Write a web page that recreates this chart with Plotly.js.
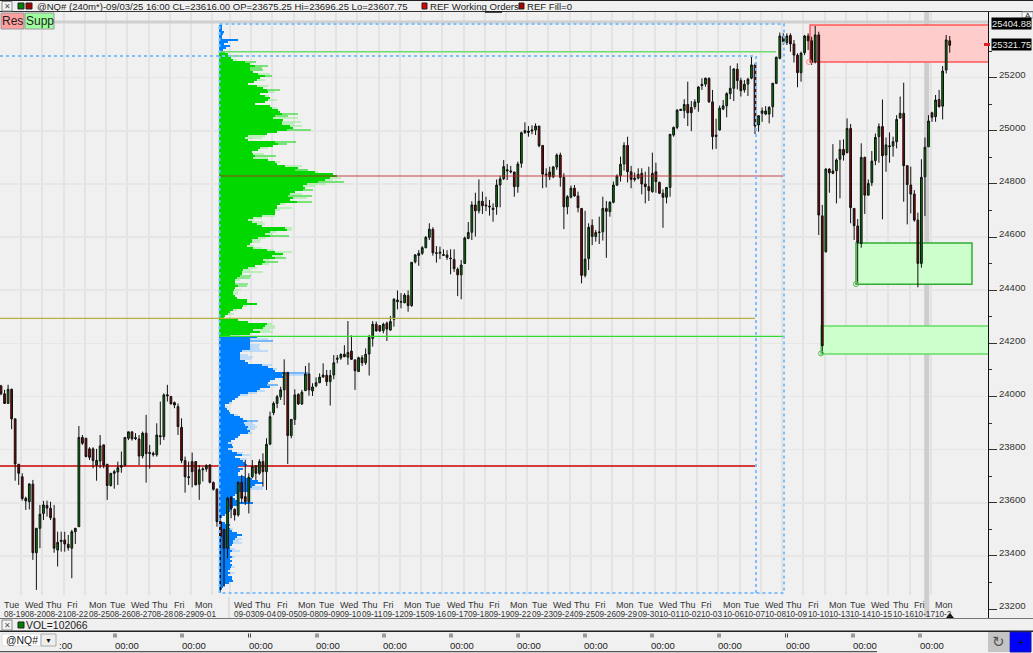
<!DOCTYPE html>
<html><head><meta charset="utf-8">
<script src="https://cdn.plot.ly/plotly-3.0.1.min.js"></script>
<style>html,body{margin:0;padding:0;background:#f0f0f0;overflow:hidden}#c{width:1033px;height:653px}</style>
</head><body><div id="c"></div>
<script>
const opens=[24040,24010,23974,24027,23916,23745,23698,23617,23604,23670,
23412,23504,23560,23590,23579,23542,23422,23454,23460,23444,
23429,23491,23510,23846,23843,23803,23803,23742,23757,23818,
23745,23665,23711,23716,23734,23742,23843,23867,23841,23840,
23776,23862,23785,23786,23781,23849,23849,24002,24000,23977,
23962,23884,23759,23698,23755,23755,23670,23724,23727,23742,
23676,23651,23529,23500,23429,23619,23575,23554,23677,23623,
23604,23698,23738,23711,23755,23717,23821,23939,23974,23999,
24025,24091,23853,23914,24008,23972,24022,24085,24021,24040,
24052,24073,24080,24056,24081,24140,24145,24159,24148,24171,
24138,24094,24146,24127,24160,24219,24272,24267,24248,24276,
24250,24291,24357,24355,24353,24380,24342,24507,24531,24539,
24560,24599,24629,24541,24539,24531,24533,24521,24516,24479,
24458,24501,24595,24618,24721,24699,24735,24721,24717,24709,
24714,24796,24820,24849,24849,24845,24790,24878,24994,24994,
24999,25003,25018,24945,24837,24845,24827,24864,24909,24825,
24714,24750,24784,24755,24708,24456,24519,24644,24602,24617,
24620,24708,24696,24731,24796,24831,24875,24945,24846,24822,
24822,24840,24800,24790,24771,24846,24806,24765,24750,24787,
24984,25013,25077,25076,25099,25088,25091,25107,25170,25176,
25198,25109,24984,25003,25082,25094,25140,25160,25232,25189,
25154,25176,25198,25248,25022,25066,25063,25063,25091,25179,
25273,25354,25332,25359,25327,25285,25219,25294,25357,25339,
25260,25361,24680,24545,24856,24849,24850,24893,24930,24918,
25009,24708,24642,24576,24900,24758,24805,24888,24978,25016,
24909,24940,24943,24959,25048,25066,24869,24796,24762,24664,
24501,24827,24940,25068,25053,25118,25093,25229,25339];
const highs=[24044,24025,24044,24030,23916,23746,23711,23623,23673,23686,
23504,23592,23607,23608,23604,23592,23491,23491,23491,23479,
23498,23504,23889,23855,23843,23809,23809,23803,23855,23818,
23745,23711,23724,23755,23793,23846,23867,23867,23862,23855,
23868,23931,23818,23793,23899,23981,24012,24044,24002,23981,
23974,23918,23774,23755,23789,23755,23742,23734,23745,23746,
23680,23654,23554,23500,23623,23626,23579,23680,23705,23761,
23711,23761,23742,23764,23786,23843,23943,23981,24006,24037,
24140,24091,23914,24027,24012,24025,24115,24127,24050,24072,
24087,24125,24100,24100,24156,24156,24163,24193,24284,24230,
24138,24150,24156,24181,24232,24284,24282,24269,24278,24282,
24303,24370,24399,24389,24389,24399,24505,24536,24551,24566,
24604,24652,24637,24566,24564,24554,24551,24554,24554,24486,
24514,24602,24657,24735,24767,24817,24771,24752,24740,24727,
24817,24831,24890,24875,24868,24846,24884,24997,25032,25018,
25021,25028,25018,24945,24859,24865,24868,24915,24918,24840,
24758,24794,24796,24771,24708,24699,24652,24667,24627,24677,
24752,24736,24736,24809,24836,24903,24957,24978,24868,24843,
24859,24859,24846,24865,24918,24880,24809,24780,24787,24988,
25016,25081,25081,25119,25185,25112,25119,25168,25198,25200,
25200,25154,25046,25095,25116,25145,25245,25235,25254,25200,
25191,25200,25283,25254,25059,25088,25093,25093,25179,25279,
25370,25367,25367,25367,25342,25292,25298,25361,25367,25354,
25395,25373,24721,24859,24859,24950,24896,24965,24968,25047,
25026,24708,24668,24953,24903,24817,24924,24990,25028,25118,
24975,24994,24978,25059,25129,25181,24869,24865,24777,24692,
24893,24975,25059,25072,25135,25154,25244,25361,25357];
const lows=[24005,23972,23974,23877,23683,23667,23608,23573,23575,23385,
23272,23429,23535,23548,23535,23412,23360,23416,23416,23420,
23316,23445,23510,23818,23771,23761,23730,23683,23730,23730,
23611,23661,23653,23667,23713,23736,23836,23834,23836,23742,
23767,23676,23729,23774,23774,23818,23836,23981,23971,23956,
23855,23749,23638,23667,23658,23667,23611,23680,23717,23673,
23646,23510,23262,23284,23391,23542,23533,23548,23598,23592,
23560,23692,23686,23705,23661,23648,23817,23930,23956,23987,
23968,23746,23843,23893,23968,23968,24022,24003,24002,24035,
24050,24072,24040,23966,24065,24125,24138,24148,24119,24138,
24025,24092,24115,24119,24079,24188,24244,24243,24238,24209,
24248,24263,24328,24332,24351,24319,24338,24501,24492,24533,
24558,24589,24530,24504,24517,24529,24514,24460,24469,24378,
24366,24499,24592,24589,24602,24689,24687,24698,24681,24658,
24684,24712,24815,24815,24840,24752,24767,24861,24988,24978,
24987,24984,24938,24784,24787,24815,24822,24853,24790,24630,
24686,24746,24752,24693,24426,24448,24476,24570,24583,24574,
24587,24522,24677,24727,24792,24809,24850,24806,24784,24809,
24817,24761,24727,24736,24767,24767,24762,24635,24727,24752,
24978,25006,25075,25047,25018,24999,25081,25072,25154,25166,
25106,24930,24932,25001,25078,25051,25119,25112,25156,25129,
25144,25131,25194,24988,24997,25034,25059,25028,25051,25176,
25269,25323,25323,25298,25257,25164,25185,25285,25304,25248,
25254,24608,24162,24542,24767,24837,24727,24746,24888,24915,
24652,24589,24426,24560,24687,24758,24792,24871,24880,24667,
24846,24880,24903,24934,25047,24733,24648,24689,24658,24411,
24485,24679,24940,25034,25034,25088,25043,25216,25294];
const closes=[24010,23974,24027,23916,23746,23711,23616,23607,23671,23412,
23504,23557,23592,23580,23544,23429,23451,23459,23445,23431,
23491,23504,23846,23824,23774,23771,23759,23759,23814,23742,
23665,23711,23717,23732,23740,23846,23867,23841,23845,23776,
23862,23785,23789,23781,23855,23852,24006,24006,23972,23968,
23887,23759,23698,23695,23717,23667,23724,23727,23740,23677,
23651,23529,23473,23429,23617,23579,23554,23677,23617,23604,
23696,23736,23711,23755,23717,23820,23924,23974,23999,24025,
24091,23853,23914,24006,23972,24016,24085,24025,24036,24052,
24073,24081,24056,24079,24127,24144,24158,24150,24166,24140,
24097,24146,24127,24159,24222,24272,24247,24247,24272,24254,
24282,24366,24363,24357,24382,24342,24505,24533,24539,24560,
24599,24630,24541,24539,24543,24534,24524,24519,24481,24458,
24495,24597,24617,24721,24699,24735,24718,24718,24714,24704,
24796,24819,24865,24853,24846,24790,24875,24993,25001,24999,
25003,25018,24944,24837,24834,24827,24864,24909,24825,24714,
24752,24784,24755,24711,24456,24517,24637,24602,24617,24619,
24708,24697,24731,24796,24830,24874,24945,24846,24817,24817,
24836,24800,24790,24775,24840,24809,24765,24750,24787,24987,
25013,25078,25081,25099,25068,25068,25109,25165,25175,25198,
25109,24978,24979,25085,25094,25140,25160,25233,25189,25151,
25175,25194,25248,25018,25057,25075,25075,25088,25179,25277,
25357,25336,25357,25327,25285,25219,25292,25357,25339,25258,
25361,24683,24191,24856,24842,24840,24890,24930,24909,25009,
24711,24643,24580,24900,24758,24802,24886,24975,25016,24906,
24947,24943,24959,25043,25066,24869,24798,24762,24664,24501,
24825,24938,25037,25051,25116,25091,25225,25342,25322];

const profileBlueTop=[3,3,3,5,4,3,3,19,9,5,11,7,4];
const profileGreen=[6,9,11,12,14,26,31,36,31,31,34,39,46,41,38,35,29,38,44,48,49,41,46,51,49,46,36,51,53,59,61,63,56,54,64,63,63,71,74,68,58,48,29,26,29,56,59,54,41,39,33,34,36,34,49,56,58,66,79,
76,96,114,118,111,106,99,88,84,86,84,76,71,69,74,71,78,61,58,58,56,56,56,43,34,29,33,38,43,66,68,51,46,51,39,33,33,31,28,34,48,56,64,53,56,44,46,43,36,29,24,23,23,21,18,16,16,16,19,16,15,14,14,16,18,28,28,38,24,23,14,11,9,6,5,19,29,48,46,44,34,41,31,11];
const profileBlue=[38,31,31,31,31,31,31,23,21,21,21,21,26,29,43,49,54,56,64,63,66,56,51,49,48,51,41,38,29,21,19,16,13,10,6,6,8,10,11,15,21,24,28,25,26,29,28,31,29,21,19,16,12,9,13,14,9,13,18,23,16,21,24,26,28,
19,24,21,19,19,26,33,39,44,36,33,31,29,19,16,14,16,19,34,19,14,13,11,9,6,3,1,1,6,11,10,11,13,18,23,18,16,14,14,13,11,11,13,11,11,13,11,13,11,13,12,11,9,11,9,13,13,14,10,6,4,3,2];
const greenSpikeLevels=[2,5,7,8,9,12,19,31,32,39,45,46,52,59,65,69,72,75,92,103,105,112,113,116,117];
const greenSpikeVolumes=[21,37,49,43,44,53,61,79,69,92,77,68,57,89,125,94,93,93,70,67,59,32,31,29,28];
const greenTintLevels=[4,11,14,17,20,22,24,28,33,35,36,37,42,43,48,51,53,55,57,59,60,63,64,66,67,71,73,76,78,79,82,83,84,85,86,88,89,90,91,93,94,95,97,98,99,100,102,104,106,108,109,110,114,119,120,121,127,129,131,136,137,138,139,140,142];
const greenTintVolumes=[18,51,46,49,56,50,58,58,79,82,75,83,46,43,49,45,49,61,83,88,99,122,114,107,96,83,88,66,73,61,56,43,35,44,46,73,73,57,53,47,42,41,35,43,55,73,63,51,50,38,31,44,21,22,19,19,28,18,15,53,56,56,51,54,21];
const blueSpikeLevels=[2,18,24,42];
const blueSpikeVolumes=[54,89,59,39];
const blueTintLevels=[1,4,5,6,7,9,10,11,14,16,19,27,28,29,33,35,39,43,44,45,46,48,53,56,58,59,61,75,76,96,101,102,103,106,107,110,115,118];
const blueTintVolumes=[49,41,40,41,49,29,34,32,53,58,89,46,38,29,13,9,19,34,36,38,36,33,14,13,24,31,28,44,44,14,23,20,23,16,21,16,16,16];

const dayNames=["Tue","Wed","Thu","Fri","Mon","Tue","Wed","Thu","Fri","Mon","Wed","Thu","Fri","Mon","Tue","Wed","Thu","Fri","Mon","Tue","Wed","Thu","Fri","Mon","Tue","Wed","Thu","Fri","Mon","Tue","Wed","Thu","Fri","Mon","Tue","Wed","Thu","Fri","Mon","Tue","Wed","Thu","Fri","Mon"];
const dayDates=["08-19","08-20","08-21","08-22","08-25","08-26","08-27","08-28","08-29","09-01","09-03","09-04","09-05","09-08","09-09","09-10","09-11","09-12","09-15","09-16","09-17","09-18","09-19","09-22","09-23","09-24","09-25","09-26","09-29","09-30","10-01","10-02","10-03","10-06","10-07","10-08","10-09","10-10","10-13","10-14","10-15","10-16","10-17","10-2"];
const yTicks=[23200,23400,23600,23800,24000,24200,24400,24600,24800,25000,25200];

// overlay levels (price) and their spans (chart pixels converted through the axis)
const pocPrice=24830, greenTopPrice=25298, olivePrice=24294, greenLowPrice=24226, redPrice=23738;
const resZone=[25398,25259], suppZoneA=[24578,24423], suppZoneB=[24265,24160];
const zoneDotPrices=[25259,24423,24162];

const PW=988,PT=12,PB=618;
const xAt=p=>(p-1)/3.54, priceAt=y=>25200-(y-77.7)*3.764;
const px=x=>x/PW, py=y=>(PB-y)/(PB-PT);
const barIdx=opens.map((_,i)=>i);
const xBase=xAt(219), stepP=7.53;

function profBar(vals,y0,col,w){return {type:'bar',orientation:'h',y:vals.map((_,k)=>priceAt(y0+2*k)),x:vals.map(v=>v/3.54),base:xBase,width:w,marker:{color:col,line:{width:0}},hoverinfo:'skip'};}
function sparseBar(levels,vols,y0,col,w){return {type:'bar',orientation:'h',y:levels.map(k=>priceAt(y0+2*k)),x:vols.map(v=>v/3.54),base:xBase,width:w,marker:{color:col,line:{width:0}},hoverinfo:'skip'};}
function hline(p,x0,x1,color,width){return {type:'scatter',mode:'lines',x:[xAt(x0),xAt(x1)],y:[p,p],line:{color:color,width:width},hoverinfo:'skip'};}

const traces=[
 sparseBar(greenTintLevels,greenTintVolumes,52,'#8cea8c',stepP*0.45),
 sparseBar(blueTintLevels,blueTintVolumes,337,'#8cc6ff',stepP*0.45),
 profBar(profileBlueTop,26,'#0080ff',stepP),
 profBar(profileGreen,52,'#00d800',stepP),
 profBar(profileBlue,337,'#0080ff',stepP),
 sparseBar(greenSpikeLevels,greenSpikeVolumes,52,'#00d800',stepP*0.4),
 sparseBar(blueSpikeLevels,blueSpikeVolumes,337,'#0080ff',stepP*0.4),
 {type:'candlestick',x:barIdx,open:opens,high:highs,low:lows,close:closes,
  increasing:{line:{color:'#101010',width:1},fillcolor:'#008000'},
  decreasing:{line:{color:'#101010',width:1},fillcolor:'#8b0000'},
  whiskerwidth:0,hoverinfo:'skip'},
 hline(pocPrice,219,783,'rgba(190,30,30,0.55)',1.5),
 hline(greenTopPrice,219,776,'#70dc70',1.5),
 hline(olivePrice,0,755,'#b8b040',1.3),
 hline(greenLowPrice,219,783,'#30dc30',1.3),
 {type:'scatter',mode:'markers',x:[xAt(809),xAt(856),xAt(821)],y:zoneDotPrices,
  marker:{size:5,symbol:'circle-open',color:['#ff8888','#55bb55','#55bb55'],line:{width:1}},hoverinfo:'skip'}
];

const gridVals=[];
for(let n=1;n<=44;n++) gridVals.push(n<=10?6*n-0.28:6*n-1.35);

const x0d=xAt(0),x1d=xAt(PW);
const shapes=[
 {type:'rect',layer:'between',xref:'x',yref:'y',x0:x0d,x1:x1d,y0:priceAt(618),y1:priceAt(595),fillcolor:'#f0f0f0',line:{width:0}},
 {type:'line',layer:'between',xref:'x',yref:'y',x0:xAt(20),x1:x1d,y0:priceAt(22),y1:priceAt(22),line:{color:'#cfcfcf',width:3}},
 {type:'line',layer:'between',xref:'x',yref:'y',x0:xAt(926.7),x1:xAt(926.7),y0:priceAt(12),y1:priceAt(617),line:{color:'#cdcdcd',width:5}},
 {type:'rect',layer:'between',xref:'x',yref:'y',x0:xAt(810),x1:xAt(989),y0:resZone[0],y1:resZone[1],fillcolor:'#ffcccc',line:{color:'#ff5555',width:1.5}},
 {type:'rect',layer:'between',xref:'x',yref:'y',x0:xAt(856),x1:xAt(972),y0:suppZoneA[0],y1:suppZoneA[1],fillcolor:'#ccffcc',line:{color:'#33aa33',width:1.5}},
 {type:'rect',layer:'between',xref:'x',yref:'y',x0:xAt(821),x1:xAt(989),y0:suppZoneB[0],y1:suppZoneB[1],fillcolor:'#ccffcc',line:{color:'#66dd66',width:1.5}},
 {type:'line',layer:'between',xref:'x',yref:'y',x0:x0d,x1:xAt(755),y0:redPrice,y1:redPrice,line:{color:'#cc0000',width:1.5}},
 {type:'rect',layer:'above',xref:'x',yref:'y',x0:xAt(219.5),x1:xAt(784),y0:priceAt(24),y1:priceAt(593),line:{color:'#80bfff',width:2,dash:'dot'}},
 {type:'line',layer:'above',xref:'x',yref:'y',x0:x0d,x1:xAt(756),y0:priceAt(56),y1:priceAt(56),line:{color:'#80bfff',width:2,dash:'dot'}}, 
 {type:'line',layer:'above',xref:'x',yref:'y',x0:xAt(756),x1:xAt(756),y0:priceAt(56),y1:priceAt(593),line:{color:'#80bfff',width:2,dash:'dot'}},
];
function box(x0,y0,x1,y1,fill,line,lw){shapes.push({type:'rect',layer:'above',xref:'paper',yref:'paper',x0:px(x0),x1:px(x1),y0:py(y0),y1:py(y1),fillcolor:fill,line:{color:line||fill,width:lw===undefined?1:lw}});}
function rule(x0,y0,x1,y1,c,w){shapes.push({type:'line',layer:'above',xref:'paper',yref:'paper',x0:px(x0),x1:px(x1),y0:py(y0),y1:py(y1),line:{color:c,width:w}});}

const ann=[];
const FONT='"Liberation Sans",Arial,sans-serif';
function txt(x,y,t,size,color,anchor,extra){ann.push(Object.assign({xref:'paper',yref:'paper',x:px(x),y:py(y),text:t,showarrow:false,xanchor:anchor||'left',yanchor:'middle',font:{family:FONT,size:size,color:color||'#222'},borderpad:0},extra||{}));}

// header strip
box(0,0,1033,12,'#f0f0f0','#f0f0f0',0);
rule(0,0.5,1033,0.5,'#222',1); rule(0,11.5,1033,11.5,'#333',1);
box(2,1.5,12,11,'#f4f4f4','#888',1);
txt(7,6.4,'✕',8,'#555','center');
box(18,3,24,9,'#008000','#222',1); box(26,3,32,9,'#aa0000','#222',1);
txt(36,6.5,'@NQ# (240m*)-09/03/25 16:00 CL=23616.00 OP=23675.25 Hi=23696.25 Lo=23607.75',9.55);
box(422,3,427,9,'#dd0000','#222',1);
txt(429,6.5,'REF Working Orders',9.6);
rule(485,12,502,12,'#111',1.5);
box(519,3,524,9,'#aa0000','#222',1);
txt(526,6.5,'REF Fill=0',9.6);

// Res / Supp
box(1,13,24,29,'#ff9f9f','#999',1); txt(12.5,21,'Res',12,'#222','center');
box(25,13,54,29,'#9fff9f','#999',1); txt(39.5,21,'Supp',12,'#222','center');

// right side labels
txt(991,23,'25404.88',9.4,'#e8e8e8','left',{bgcolor:'#000'});
box(1022,12,1033,18,'#f7f7f7','#aaa',1); txt(1027.5,15,'A',8,'#222','center');
box(984,43,990,46,'#dd2020','#dd2020',0);
txt(991,44.5,'25321.75',9.4,'#e8e8e8','left',{bgcolor:'#000'});

// VOL strip and time strip
box(0,618,1033,631,'#f0f0f0','#f0f0f0',0);
rule(0,618.5,1033,618.5,'#777',1); rule(0,631.3,1033,631.3,'#222',1.5);
box(2,620,12,630,'#f4f4f4','#888',1);
txt(7,625,'✕',8,'#555','center');
box(18,622,24,628,'#008000','#222',1);
txt(25,625.5,'VOL=102066',10.4);
box(0,632,1033,653,'#f0f0f0','#f0f0f0',0);
box(2,634,41,646,'#ffffff','#ddd',1); txt(5,640,'@NQ#',10.4);
box(41,634,56,646,'#eeeeee','#aaa',1); txt(48.5,640.5,'▼',7,'#111','center');
for(const xx of [115,182,249.5,317,384,451,518,585,652,719,786.5,853,920]){ rule(xx-1,633.5,xx-1,637.5,'#444',1); rule(xx+1,633.5,xx+1,637.5,'#444',1);}
txt(65,646,':00',9.5,'#222','center');
for(const xx of [127,194,261,328,395,462,529,596,663,730,798,865,932]) txt(xx,646,'00:00',9.5,'#222','center');
box(988,632,1009,652,'#c4c4c4','#c4c4c4',0); txt(998.5,642,'↻',16,'#555','center',{font:{family:'"DejaVu Sans"',size:15,color:'#555'}});
box(1010,632,1031,652,'#0000ff','#1a1a99',1); txt(1020.5,642,'+',10,'#111','center');
rule(0,651.6,877,651.6,'#555',1.2);

// x labels
const xLab=(d)=> d<=9?xAt(2.7+21.24*d):xAt(2.7+21.24*(d+1)-3.2);
dayNames.forEach((name,i)=>{
 ann.push({xref:'x',yref:'paper',x:xLab(i),y:py(605),text:name,showarrow:false,xanchor:'left',yanchor:'middle',font:{family:FONT,size:9,color:'#333'},borderpad:0});
 ann.push({xref:'x',yref:'paper',x:xLab(i),y:py(614),text:dayDates[i],showarrow:false,xanchor:'left',yanchor:'middle',font:{family:FONT,size:8.2,color:'#333'},borderpad:0});
});
rule(229,597,229,618,'#cccccc',1);
shapes.push({type:'path',layer:'above',xref:'paper',yref:'paper',path:'M '+px(946)+' '+py(618)+' L '+px(954)+' '+py(618)+' L '+px(950)+' '+py(613)+' Z',fillcolor:'#111',line:{width:0}});

const layout={
 width:1033,height:653,autosize:false,showlegend:false,dragmode:false,
 margin:{l:0,r:1033-PW,t:PT,b:653-PB,pad:0},
 paper_bgcolor:'#f0f0f0',plot_bgcolor:'#f0f0f0',barmode:'overlay',
 xaxis:{range:[x0d,x1d],tickmode:'array',tickvals:gridVals,showticklabels:false,ticks:'',showgrid:true,gridcolor:'#e3e3e3',gridwidth:2,zeroline:false,showline:false,rangeslider:{visible:false},fixedrange:true,layer:'below traces'},
 yaxis:{range:[priceAt(PB),priceAt(PT)],side:'right',tickmode:'array',tickvals:yTicks,ticktext:yTicks.map(String),ticks:'outside',ticklen:8,tickcolor:'#333',tickwidth:1,
  minor:{tickmode:'array',tickvals:[23300,23500,23700,23900,24100,24300,24500,24700,24900,25100,25300],ticks:'outside',ticklen:3,tickcolor:'#333',showgrid:false},
  ticklabelstandoff:0,ticklabelshift:-3,tickfont:{family:FONT,size:9.6,color:'#333'},showgrid:true,gridcolor:'#e6e6e6',gridwidth:1.5,zeroline:false,showline:true,linecolor:'#111',linewidth:1,fixedrange:true},
 shapes:shapes,annotations:ann
};
Plotly.newPlot('c',traces,layout,{displayModeBar:false,staticPlot:true});
</script></body></html>
